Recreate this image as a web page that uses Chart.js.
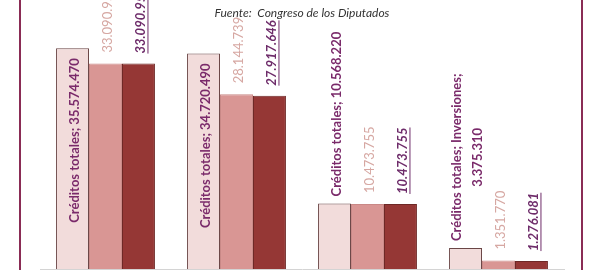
<!DOCTYPE html>
<html>
<head>
<meta charset="utf-8">
<script src="https://cdn.jsdelivr.net/npm/chart.js@4"></script>
<style>
  html, body { margin: 0; padding: 0; background: #fff; }
  #wrap { position: relative; width: 604px; height: 270px; overflow: hidden; }
  #marco { position: absolute; left: 19px; top: -10px; width: 560px; height: 300px;
           border-left: 2px solid #8a2c55; border-right: 2px solid #8a2c55; pointer-events: none; }
</style>
</head>
<body>
<div id="wrap">
  <canvas id="grafico" width="604" height="270"></canvas>
  <div id="marco"></div>
</div>
<script>
// datos
const categorias = ['Gastos de personal', 'Gastos corrientes en bienes y servicios', 'Transferencias corrientes', 'Inversiones'];
const creditosTotales = [35574470, 34720490, 10568220, 3375310];
const obligaciones = [33090950, 28144739, 10473755, 1351770];
const pagos = [33090950, 27917646, 10473755, 1276081];
const etiquetaConCategoria = [false, false, false, true];

function fmt(n) {
  return String(n).replace(/\B(?=(\d{3})+(?!\d))/g, '.');
}

// etiquetas verticales al estilo de Excel
const etiquetas = {
  id: 'etiquetas',
  afterDatasetsDraw(chart) {
    const ctx = chart.ctx;
    chart.data.datasets.forEach((ds, di) => {
      const meta = chart.getDatasetMeta(di);
      meta.data.forEach((bar, i) => {
        const v = ds.data[i];
        let lines;
        if (di === 0) {
          lines = etiquetaConCategoria[i]
            ? [ds.label + '; ' + categorias[i] + ';', fmt(v)]
            : [ds.label + '; ' + fmt(v)];
        } else {
          lines = [fmt(v)];
        }
        ctx.save();
        ctx.font = ds.labelFont;
        ctx.fillStyle = ds.labelColor;
        ctx.strokeStyle = ds.labelColor;
        const widths = lines.map(l => ctx.measureText(l).width);
        const maxW = Math.max(...widths);
        const h = bar.base - bar.y;
        const lineGap = 21;
        const cx = bar.x + 2;
        let inside = di === 0 && h > maxW + 22;
        ctx.translate(cx, inside ? bar.y + 10 : bar.y - ds.labelOffset);
        ctx.rotate(-Math.PI / 2);
        ctx.textBaseline = 'middle';
        lines.forEach((l, li) => {
          const dy = (li - (lines.length - 1) / 2) * lineGap;
          let x0;
          if (inside) {
            x0 = -maxW + (maxW - widths[li]) / 2;
          } else {
            x0 = (maxW - widths[li]) / 2;
          }
          ctx.textAlign = 'left';
          ctx.fillText(l, x0, dy);
          if (ds.underline) {
            ctx.lineWidth = 1;
            ctx.beginPath();
            ctx.moveTo(x0, dy + 7.5);
            ctx.lineTo(x0 + widths[li], dy + 7.5);
            ctx.stroke();
          }
        });
        ctx.restore();
      });
    });
  }
};

new Chart(document.getElementById('grafico'), {
  type: 'bar',
  data: {
    labels: categorias,
    datasets: [{
      label: 'Créditos totales',
      data: creditosTotales,
      backgroundColor: '#f2dcdb',
      borderColor: '#6a4646',
      borderWidth: 1,
      labelFont: 'bold 13px Lato',
      labelColor: '#7a2a6a',
      labelOffset: 7
    }, {
      label: 'Obligaciones reconocidas',
      data: obligaciones,
      backgroundColor: '#d99694',
      borderColor: '#c98886',
      borderWidth: 1,
      labelFont: '13px Lato',
      labelColor: '#d6a7a2',
      labelOffset: 11
    }, {
      label: 'Pagos realizados',
      data: pagos,
      backgroundColor: '#953735',
      borderColor: '#6e2826',
      borderWidth: 1,
      labelFont: 'italic bold 13px Lato',
      labelColor: '#6e2c6a',
      labelOffset: 10,
      underline: true
    }]
  },
  options: {
    responsive: false,
    animation: false,
    categoryPercentage: 0.755,
    barPercentage: 1,
    layout: { padding: { left: 40, right: 40, top: 0, bottom: 1 } },
    scales: {
      x: {
        grid: { display: false, drawTicks: false },
        ticks: { display: false },
        border: { display: true, color: '#d4d4d4' }
      },
      y: {
        display: false,
        min: 0,
        max: 39400000
      }
    },
    plugins: {
      legend: { display: false },
      tooltip: { enabled: false },
      title: { display: false },
      subtitle: {
        display: true,
        text: 'Fuente:  Congreso de los Diputados',
        color: '#333333',
        font: { family: 'Lato', size: 12, style: 'italic' },
        padding: { top: 6, bottom: 4 }
      }
    }
  },
  plugins: [etiquetas]
});
</script>
</body>
</html>
